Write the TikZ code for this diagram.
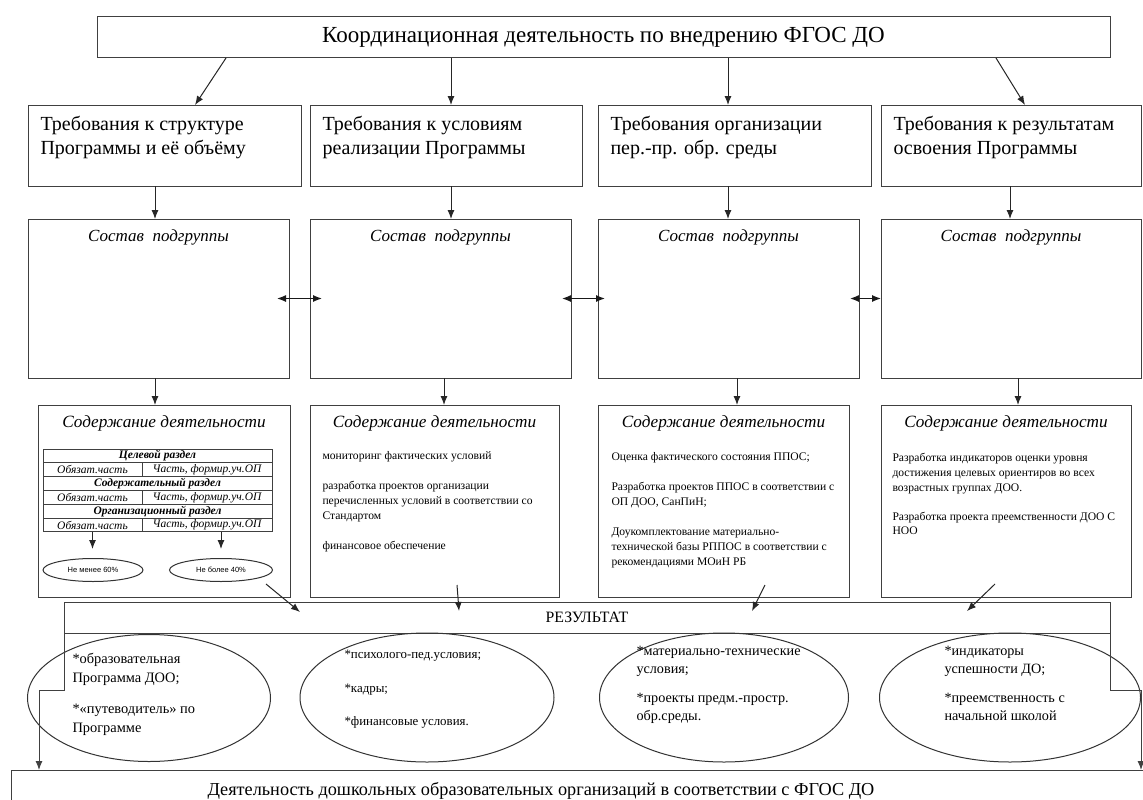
\documentclass[tikz,border=0pt]{standalone}
\usepackage{fontspec}
\setmainfont{Liberation Serif}
\setsansfont{Liberation Sans}
\usetikzlibrary{shapes.geometric,arrows.meta,calc}
\begin{document}
\begin{tikzpicture}[x=1pt,y=-1pt, line width=1pt,
  box/.style={draw=black!75, anchor=north west, inner sep=0pt, outer sep=0pt},
  txt/.style={anchor=north west, inner sep=0pt, align=left},
  arr/.style={draw=black!85, line width=1pt, -{Latex[length=9pt,width=7pt]}},
  dbl/.style={draw=black!90, line width=1.2pt, {Latex[length=9pt,width=7pt]}-{Latex[length=9pt,width=7pt]}},
  oval/.style={draw=black!80, ellipse, inner sep=0pt},
  reqfont/.style={font=\fontsize{20}{24}\selectfont},
  subfont/.style={font=\itshape\fontsize{17}{19}\selectfont},
  contfont/.style={font=\itshape\fontsize{17.2}{20}\selectfont},
  smallfont/.style={font=\fontsize{11.6}{15}\selectfont},
  hcell/.style={box, minimum width=229pt, minimum height=13.83pt, font=\bfseries\itshape\fontsize{11.5}{12}\selectfont},
  lcell/.style={box, minimum width=99pt, minimum height=13.83pt, font=\itshape\fontsize{11.5}{12}\selectfont},
  rcell/.style={box, minimum width=130pt, minimum height=13.83pt, font=\itshape\fontsize{11.5}{12}\selectfont}
]
\useasboundingbox (0,0) rectangle (1143,800);
\clip (0,0) rectangle (1143,800);
\fill[white] (0,0) rectangle (1143,800);

% top
\node[box, minimum width=1013pt, minimum height=41pt, font=\fontsize{23}{25}\selectfont] (top) at (97,17) {Координационная деятельность по внедрению ФГОС ДО};

% requirement boxes
\node[box, minimum width=273pt, minimum height=81pt] (req1) at (28,105) {};
\node[box, minimum width=272pt, minimum height=81pt] (req2) at (310,105) {};
\node[box, minimum width=273pt, minimum height=81pt] (req3) at (598,105) {};
\node[box, minimum width=260pt, minimum height=81pt] (req4) at (881,105) {};
\node[txt, reqfont] (rt1) at (40,116) {Требования к структуре\\Программы и её объёму};
\node[txt, reqfont] (rt2) at (322,116) {Требования к условиям\\реализации Программы};
\node[txt, reqfont] (rt3) at (610,116) {Требования организации\\пер.-пр. обр. среды};
\node[txt, reqfont] (rt4) at (893,116) {Требования к результатам\\освоения Программы};

% subgroup boxes
\node[box, minimum width=261pt, minimum height=159pt] (sub1) at (28,219) {};
\node[box, minimum width=261pt, minimum height=159pt] (sub2) at (310,219) {};
\node[box, minimum width=261pt, minimum height=159pt] (sub3) at (598,219) {};
\node[box, minimum width=260pt, minimum height=159pt] (sub4) at (881,219) {};
\node[subfont, anchor=base] (st1) at (158.5,241) {Состав\ \ подгруппы};
\node[subfont, anchor=base] (st2) at (440.5,241) {Состав\ \ подгруппы};
\node[subfont, anchor=base] (st3) at (728.5,241) {Состав\ \ подгруппы};
\node[subfont, anchor=base] (st4) at (1011,241) {Состав\ \ подгруппы};

% content boxes
\node[box, minimum width=252pt, minimum height=192pt] (cont1) at (38,405) {};
\node[box, minimum width=249pt, minimum height=192pt] (cont2) at (310,405) {};
\node[box, minimum width=251pt, minimum height=192pt] (cont3) at (598,405) {};
\node[box, minimum width=250pt, minimum height=192pt] (cont4) at (881,405) {};
\node[contfont, anchor=base] (ct1) at (164,427) {Содержание деятельности};
\node[contfont, anchor=base] (ct2) at (434.5,427) {Содержание деятельности};
\node[contfont, anchor=base] (ct3) at (723.5,427) {Содержание деятельности};
\node[contfont, anchor=base] (ct4) at (1006,427) {Содержание деятельности};

% table in column 1
\node[hcell] (h1) at (43,449) {Целевой раздел};
\node[lcell] (c1l) at (43,462.83) {Обязат.часть};
\node[rcell] (c1r) at (142,462.83) {Часть, формир.уч.ОП};
\node[hcell] (h2) at (43,476.66) {Содержательный раздел};
\node[lcell] (c2l) at (43,490.49) {Обязат.часть};
\node[rcell] (c2r) at (142,490.49) {Часть, формир.уч.ОП};
\node[hcell] (h3) at (43,504.32) {Организационный раздел};
\node[lcell] (c3l) at (43,518.15) {Обязат.часть};
\node[rcell] (c3r) at (142,518.15) {Часть, формир.уч.ОП};
\node[oval, minimum width=100pt, minimum height=23pt, font=\sffamily\fontsize{7.5}{9}\selectfont] (e60) at (93,570) {Не менее 60\%};
\node[oval, minimum width=103pt, minimum height=23pt, font=\sffamily\fontsize{7.5}{9}\selectfont] (e40) at (221,570) {Не более 40\%};
\draw[arr, shorten >=9pt] (c3l.south) -- (c3l.south |- e60.north);
\draw[arr, shorten >=9pt] ([xshift=14pt]c3r.south) -- (e40.north);

% content texts
\node[txt, smallfont] (cx2) at (322,451) {мониторинг фактических условий\\[15pt]разработка проектов организации\\перечисленных условий в соответствии со\\Стандартом\\[15pt]финансовое обеспечение};
\node[txt, smallfont] (cx3) at (611,452) {Оценка фактического состояния ППОС;\\[15pt]Разработка проектов ППОС в соответствии с\\ОП ДОО, СанПиН;\\[15pt]Доукомплектование материально-\\технической базы РППОС в соответствии с\\рекомендациями МОиН РБ};
\node[txt, font=\fontsize{11.6}{14.6}\selectfont] (cx4) at (892,453) {Разработка индикаторов оценки уровня\\достижения целевых ориентиров во всех\\возрастных группах ДОО.\\[14.6pt]Разработка проекта преемственности ДОО С\\НОО};

% result band
\node[box, minimum width=1046pt, minimum height=31pt, font=\fontsize{15.8}{17}\selectfont] (res) at (64,602) {РЕЗУЛЬТАТ};

% bottom box
\node[box, minimum width=1150pt, minimum height=50pt] (bot) at (11,770) {};
\node[anchor=base, inner sep=0pt, font=\fontsize{18.25}{20}\selectfont] (bt) at (541,795) {Деятельность дошкольных образовательных организаций в соответствии с ФГОС ДО};

% result ellipses
\node[oval, minimum width=243pt, minimum height=127pt] (r1) at (149,698) {};
\node[oval, minimum width=254pt, minimum height=129pt] (r2) at (427,697.5) {};
\node[oval, minimum width=249pt, minimum height=129pt] (r3) at (724,697.5) {};
\node[oval, minimum width=261pt, minimum height=129pt] (r4) at (1010,697.5) {};
\node[txt, font=\fontsize{14.4}{19}\selectfont] (rx1) at (72,653) {*образовательная\\Программа ДОО;\\[12pt]*«путеводитель» по\\Программе};
\node[txt, font=\fontsize{12.9}{16.5}\selectfont] (rx2) at (344,650) {*психолого-пед.условия;\\[17pt]*кадры;\\[17pt]*финансовые условия.};
\node[txt, font=\fontsize{14.2}{17.5}\selectfont] (rx3) at (636,646) {*материально-технические\\условия;\\[12pt]*проекты предм.-простр.\\обр.среды.};
\node[txt, font=\fontsize{14.2}{17.5}\selectfont] (rx4) at (944,646) {*индикаторы\\успешности ДО;\\[12pt]*преемственность с\\начальной школой};

% arrows top -> requirements
\draw[arr] ([xshift=129pt]top.south west) -- ([xshift=167pt]req1.north west);
\draw[arr] ([xshift=354pt]top.south west) -- ([xshift=141pt]req2.north west);
\draw[arr] ([xshift=631pt]top.south west) -- ([xshift=130pt]req3.north west);
\draw[arr] ([xshift=899pt]top.south west) -- ([xshift=144pt]req4.north west);

% requirements -> subgroups
\draw[arr] ([xshift=127pt]req1.south west) -- ([xshift=127pt]sub1.north west);
\draw[arr] ([xshift=141pt]req2.south west) -- ([xshift=141pt]sub2.north west);
\draw[arr] ([xshift=130pt]req3.south west) -- ([xshift=130pt]sub3.north west);
\draw[arr] ([xshift=129pt]req4.south west) -- ([xshift=129pt]sub4.north west);

% subgroups double arrows
\draw[dbl] ([xshift=-12pt]sub1.east) -- ([xshift=12pt]sub2.west);
\draw[dbl] ([xshift=-9pt]sub2.east) -- ([xshift=7pt]sub3.west);
\draw[dbl] ([xshift=-9pt]sub3.east) -- ([xshift=0pt]sub4.west);

% subgroups -> content
\draw[arr] ([xshift=127pt]sub1.south west) -- ([xshift=117pt]cont1.north west);
\draw[arr] ([xshift=134pt]sub2.south west) -- ([xshift=134pt]cont2.north west);
\draw[arr] ([xshift=139pt]sub3.south west) -- ([xshift=139pt]cont3.north west);
\draw[arr] ([xshift=137pt]sub4.south west) -- ([xshift=137pt]cont4.north west);

% content -> result
\draw[arr] ([xshift=228pt,yshift=13pt]cont1.south west) -- ([xshift=236pt,yshift=-10pt]res.north west);
\draw[arr] ([xshift=147pt,yshift=12pt]cont2.south west) -- ([xshift=395pt,yshift=-9pt]res.north west);
\draw[arr] ([xshift=167pt,yshift=12pt]cont3.south west) -- ([xshift=688pt,yshift=-9pt]res.north west);
\draw[arr] ([xshift=114pt,yshift=13pt]cont4.south west) -- ([xshift=903pt,yshift=-9pt]res.north west);

% result -> bottom
\draw[arr, draw=black!75] (res.south west) -- ++(0,57) -| ([xshift=28pt]bot.north west);
\draw[arr, draw=black!75] (res.south east) -- ++(0,57) -| ([xshift=1130pt]bot.north west);
\end{tikzpicture}
\end{document}
